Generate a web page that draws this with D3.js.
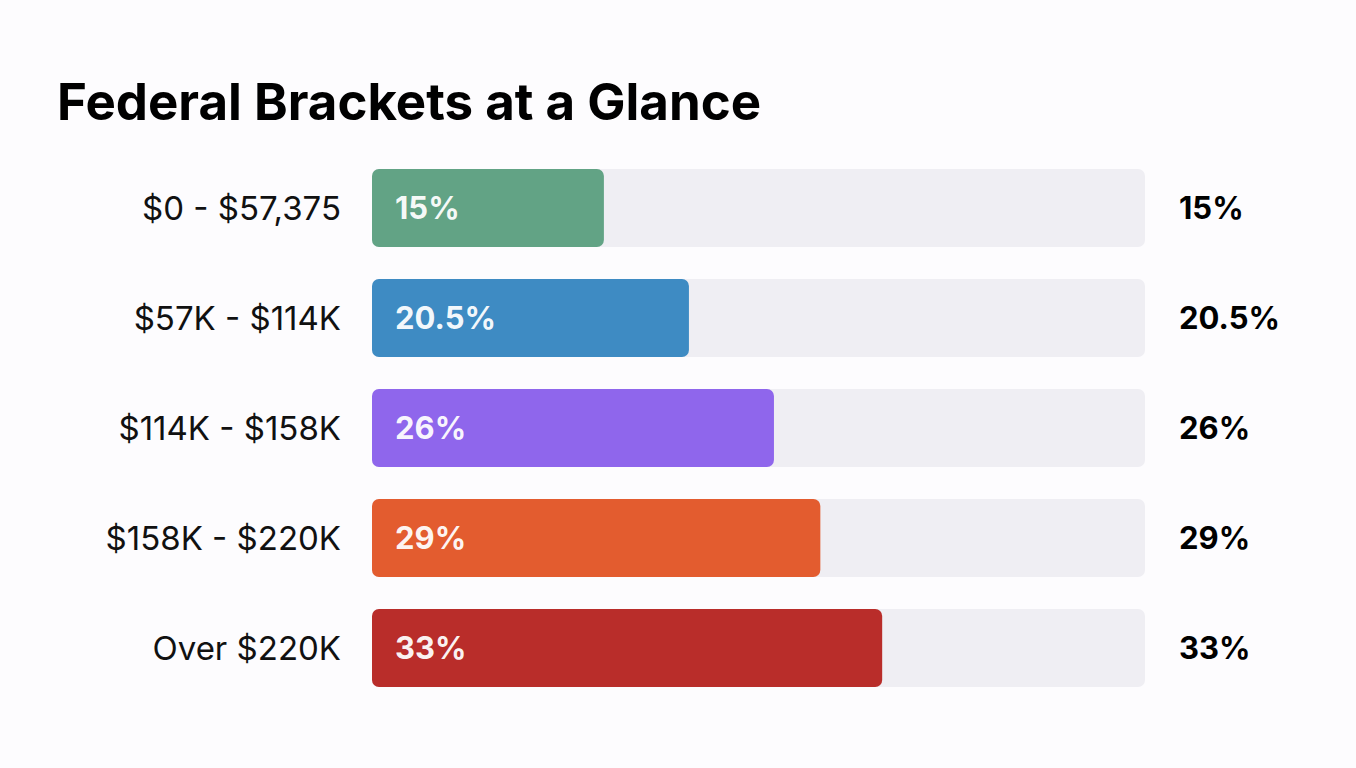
<!DOCTYPE html>
<html>
<head>
<meta charset="utf-8">
<script src="https://cdn.jsdelivr.net/npm/d3@7"></script>
<style>
  html, body { margin: 0; padding: 0; background: #fdfcfe; }
  svg { display: block; font-family: Inter, "Noto Sans", sans-serif; }
</style>
</head>
<body>
<div id="chart"></div>
<script>
// data
const brackets = ["$0 - $57,375", "$57K - $114K", "$114K - $158K", "$158K - $220K", "Over $220K"];
const rates = [15, 20.5, 26, 29, 33];
const rateLabels = ["15%", "20.5%", "26%", "29%", "33%"];
const colors = ["#62a385", "#3e8bc3", "#8f66ec", "#e35c2f", "#b92d2a"];

const width = 1356, height = 768;
const margin = { top: 169, left: 372, right: 211 };
const rowStep = 110, rowGap = 32;

const svg = d3.select("#chart")
    .append("svg")
    .attr("width", width)
    .attr("height", height);

svg.append("text")
    .attr("x", 57)
    .attr("y", 120)
    .attr("font-size", 51)
    .attr("font-weight", 700)
    .attr("fill", "#000")
    .text("Federal Brackets at a Glance");

const x = d3.scaleLinear()
    .domain([0, 50])
    .range([margin.left, width - margin.right]);

const y = d3.scaleBand()
    .domain(brackets)
    .range([margin.top, margin.top + rowStep * brackets.length - rowGap])
    .paddingInner(rowGap / rowStep)
    .paddingOuter(0);

const rows = svg.selectAll(".row")
    .data(brackets)
    .enter()
    .append("g")
    .attr("class", "row")
    .attr("transform", d => `translate(0,${y(d)})`);

// track
rows.append("rect")
    .attr("x", x(0))
    .attr("width", x(50) - x(0))
    .attr("height", y.bandwidth())
    .attr("rx", 7)
    .attr("fill", "#efeef3");

// bar
rows.append("rect")
    .attr("x", x(0))
    .attr("width", (d, i) => x(rates[i]) - x(0))
    .attr("height", y.bandwidth())
    .attr("rx", 7)
    .attr("fill", (d, i) => colors[i]);

// category labels
rows.append("text")
    .attr("x", 341)
    .attr("y", y.bandwidth() / 2)
    .attr("dy", "0.36em")
    .attr("text-anchor", "end")
    .attr("font-size", 33)
    .attr("fill", "#111")
    .text(d => d);

// inner value labels
rows.append("text")
    .attr("x", x(0) + 23)
    .attr("y", y.bandwidth() / 2)
    .attr("dy", "0.36em")
    .attr("font-size", 31)
    .attr("font-weight", 700)
    .attr("fill", "#fff")
    .attr("fill-opacity", 0.95)
    .text((d, i) => rateLabels[i]);

// right value labels
rows.append("text")
    .attr("x", x(50) + 34)
    .attr("y", y.bandwidth() / 2)
    .attr("dy", "0.36em")
    .attr("font-size", 31)
    .attr("font-weight", 700)
    .attr("fill", "#000")
    .text((d, i) => rateLabels[i]);
</script>
</body>
</html>
